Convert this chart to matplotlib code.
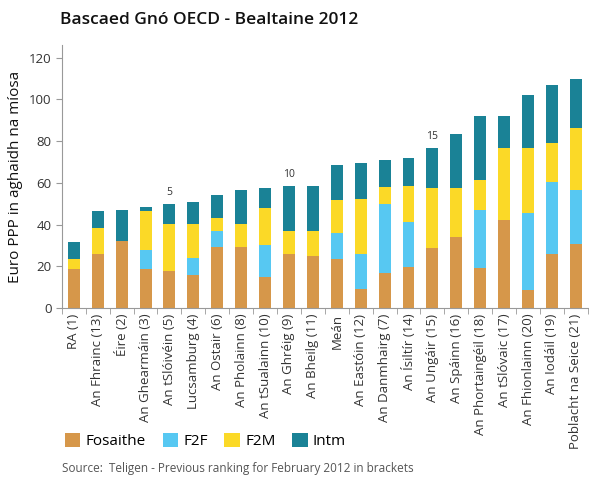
import matplotlib
matplotlib.use("Agg")
import matplotlib.pyplot as plt
import numpy as np

plt.rcParams['font.family'] = ['Open Sans', 'DejaVu Sans']

# data
countries = ["RA (1)", "An Fhrainc (13)", "Éire (2)", "An Ghearmáin (3)", "An tSlóivéin (5)",
             "Lucsamburg (4)", "An Ostair (6)", "An Pholainn (8)", "An tSualainn (10)",
             "An Ghréig (9)", "An Bheilg (11)", "Meán", "An Eastóin (12)", "An Danmhairg (7)",
             "An Ísiltír (14)", "An Ungáir (15)", "An Spáinn (16)", "An Phortaingéil (18)",
             "An tSlóvaic (17)", "An Fhionlainn (20)", "An Iodáil (19)", "Poblacht na Seice (21)"]
fosaithe = [18.5, 25.8, 32.0, 18.6, 17.6, 15.7, 29.1, 29.1, 14.7, 25.8, 24.8,
            23.4, 9.0, 16.6, 19.5, 28.6, 33.9, 19.0, 42.1, 8.5, 25.8, 30.6]
f2f = [0, 0, 0, 9.1, 0, 8.1, 7.7, 0, 15.4, 0, 0,
       12.4, 16.8, 33.2, 21.6, 0, 0, 27.9, 0, 36.9, 34.5, 25.9]
f2m = [5.0, 12.4, 0, 18.7, 22.6, 16.4, 6.2, 11.1, 17.7, 11.0, 12.0,
       15.9, 26.4, 8.1, 17.3, 28.8, 23.5, 14.4, 34.5, 31.2, 18.7, 29.7]
intm = [8.0, 8.2, 14.9, 1.9, 9.6, 10.5, 11.1, 16.3, 9.6, 21.6, 21.6,
        16.8, 17.2, 13.0, 13.4, 19.2, 26.0, 30.7, 15.4, 25.5, 27.9, 23.6]
marks = {4: "5", 9: "10", 15: "15"}

series = [("Fosaithe", fosaithe, "#D6974A"), ("F2F", f2f, "#57C8F2"),
          ("F2M", f2m, "#FBD927"), ("Intm", intm, "#1A8296")]

fig = plt.figure(figsize=(5.89, 4.79), dpi=100)
ax = fig.add_axes([0.105, 0.357, 0.893, 0.549])

x = np.arange(len(countries))
bottom = np.zeros(len(countries))
handles = []
for name, vals, col in series:
    b = ax.bar(x, vals, 0.5, bottom=bottom, color=col, label=name)
    handles.append(b)
    bottom += np.array(vals)

for i, t in marks.items():
    ax.text(i, bottom[i] + 3, t, ha='center', va='bottom', fontsize=7.5, color='#333333')

ax.set_xlim(-0.5, len(countries) - 0.5)
ax.set_ylim(0, 126)
ax.set_yticks(range(0, 121, 20))
ax.set_xticks(x)
ax.set_xticklabels(countries, rotation=90, fontsize=9.5, color='#333333')
ax.set_xticks(np.arange(-0.5, len(countries), 1), minor=True)
ax.tick_params(axis='x', which='major', length=0, pad=4)
ax.tick_params(axis='x', which='minor', length=4, color='#999999')
ax.tick_params(axis='y', labelsize=9.5, labelcolor='#333333', length=4, color='#999999')
for s in ['top', 'right']:
    ax.spines[s].set_visible(False)
for s in ['left', 'bottom']:
    ax.spines[s].set_color('#999999')
ax.set_ylabel("Euro PPP in aghaidh na míosa", fontsize=11, color='#111111')

fig.text(0.102, 0.958, "Bascaed Gnó OECD - Bealtaine 2012", fontsize=12.5, color='#111111',
         va='center', fontweight='semibold')

fig.legend(handles=handles, loc='center left', bbox_to_anchor=(0.092, 0.079), ncol=4,
           frameon=False, fontsize=11, handlelength=1.0, handleheight=1.0,
           columnspacing=1.1, handletextpad=0.35, borderpad=0.2)
fig.text(0.105, 0.015, "Source:  Teligen - Previous ranking for February 2012 in brackets",
         fontsize=8.5, color='#555555')

fig.savefig("out.png", dpi=100)
